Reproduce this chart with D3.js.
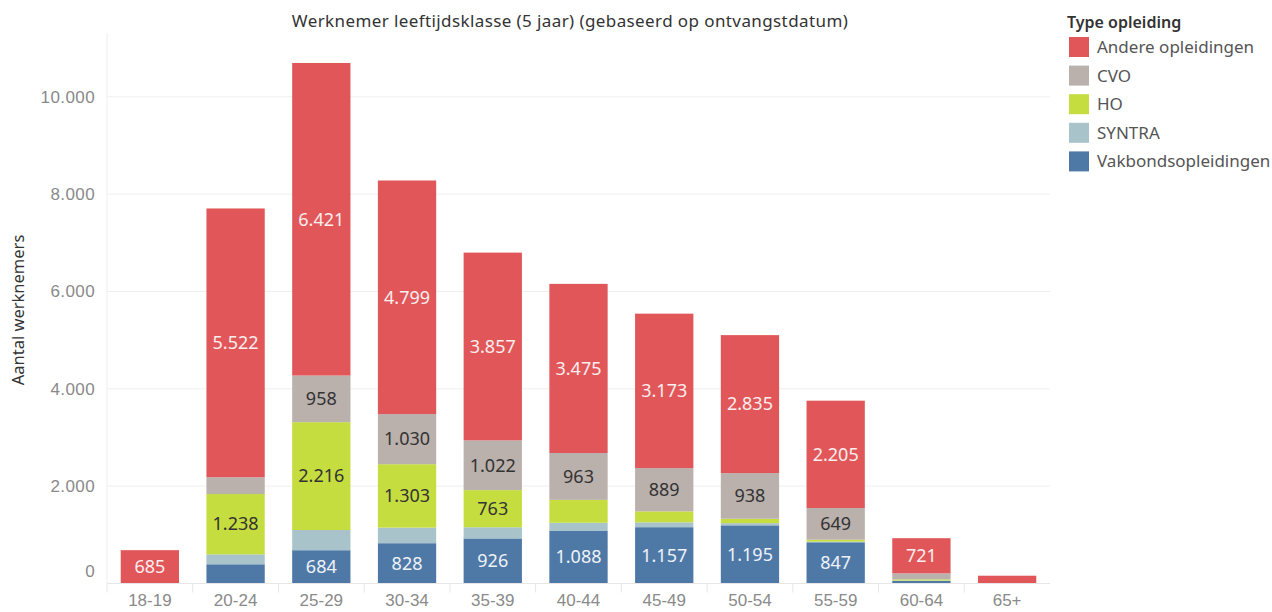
<!DOCTYPE html>
<html>
<head>
<meta charset="utf-8">
<script src="https://cdn.jsdelivr.net/npm/d3@7"></script>
<style>
  body { margin: 0; background: #fff; }
  svg { font-family: "Noto Sans", sans-serif; display: block; }
</style>
</head>
<body>
<svg id="chart"></svg>
<script>
// age classes on the x axis
var categories = ["18-19", "20-24", "25-29", "30-34", "35-39", "40-44", "45-49", "50-54", "55-59", "60-64", "65+"];

// series, stacked bottom to top
var vakbond = [0, 395, 684, 828, 926, 1088, 1157, 1195, 847, 55, 0];
var syntra  = [0, 205, 415, 320, 230, 160, 100, 45, 15, 5, 0];
var ho      = [0, 1238, 2216, 1303, 763, 470, 225, 90, 40, 25, 0];
var cvo     = [0, 345, 958, 1030, 1022, 963, 889, 938, 649, 125, 0];
var andere  = [685, 5522, 6421, 4799, 3857, 3475, 3173, 2835, 2205, 721, 160];

var yTicks = [0, 2000, 4000, 6000, 8000, 10000];

var seriesNames = ["Vakbondsopleidingen", "SYNTRA", "HO", "CVO", "Andere opleidingen"];
var legendOrder = ["Andere opleidingen", "CVO", "HO", "SYNTRA", "Vakbondsopleidingen"];
var colors = {
    "Andere opleidingen": "#e15759",
    "CVO": "#bab0ac",
    "HO": "#c6dd3f",
    "SYNTRA": "#a9c3ca",
    "Vakbondsopleidingen": "#4e79a7"
};
var labelColors = {
    "Andere opleidingen": "#fbeeee",
    "CVO": "#333",
    "HO": "#333",
    "SYNTRA": "#333",
    "Vakbondsopleidingen": "#eef2f7"
};

var dimensions = {
    width: 1272,
    height: 612,
    margin: { top: 33, bottom: 28.5, right: 222, left: 107 }
};

var svg = d3.select("#chart")
    .attr("width", dimensions.width)
    .attr("height", dimensions.height);

// build rows for d3.stack
var table = categories.map(function(c, i) {
    return {
        cat: c,
        "Vakbondsopleidingen": vakbond[i],
        "SYNTRA": syntra[i],
        "HO": ho[i],
        "CVO": cvo[i],
        "Andere opleidingen": andere[i]
    };
});
var stacked = d3.stack().keys(seriesNames)(table);

var nl = d3.formatLocale({ decimal: ",", thousands: ".", grouping: [3], currency: ["€", ""] });
var fmt = nl.format(",d");

var xScale = d3.scaleBand()
    .domain(categories)
    .range([dimensions.margin.left, dimensions.width - dimensions.margin.right])
    .paddingInner(0.32)
    .paddingOuter(0.16);

var yScale = d3.scaleLinear()
    .domain([0, 11310])
    .range([dimensions.height - dimensions.margin.bottom, dimensions.margin.top]);

var x0 = dimensions.margin.left;
var x1 = dimensions.width - dimensions.margin.right;
var yBase = yScale(0);

// gridlines
svg.append("g")
    .selectAll("line")
    .data(yTicks.slice(1))
    .enter()
    .append("line")
    .attr("x1", x0)
    .attr("x2", x1)
    .attr("y1", d => yScale(d))
    .attr("y2", d => yScale(d))
    .attr("stroke", "#efefef")
    .attr("stroke-width", 1);

// left axis line
svg.append("line")
    .attr("x1", x0).attr("x2", x0)
    .attr("y1", dimensions.margin.top).attr("y2", yBase)
    .attr("stroke", "#eeeeee");

// y axis
var yAxis = d3.axisLeft(yScale)
    .tickValues(yTicks)
    .tickFormat(fmt)
    .tickSize(0)
    .tickPadding(12);
var gy = svg.append("g")
    .attr("transform", `translate(${x0}, 0)`)
    .call(yAxis);
gy.select(".domain").remove();
gy.selectAll("text")
    .attr("fill", "#8a8a8a")
    .style("font-size", "17px")
    .style("letter-spacing", "0.4px")
    .attr("dy", d => d === 0 ? "-0.42em" : "0.32em");

svg.append("text")
    .attr("transform", "rotate(-90)")
    .attr("x", -310)
    .attr("y", 24)
    .attr("text-anchor", "middle")
    .attr("fill", "#333")
    .style("font-size", "16.5px")
    .text("Aantal werknemers");

// bars
var layers = svg.selectAll(".layer")
    .data(stacked)
    .enter()
    .append("g")
    .attr("class", "layer")
    .attr("fill", d => colors[d.key]);

layers.selectAll("rect")
    .data(d => d.map(function(p) { p.key = d.key; return p; }))
    .enter()
    .append("rect")
    .attr("x", d => xScale(d.data.cat))
    .attr("y", d => yScale(d[1]))
    .attr("width", xScale.bandwidth())
    .attr("height", d => yScale(d[0]) - yScale(d[1]));

// labels on big enough segments
layers.selectAll("text")
    .data(d => d.filter(p => p[1] - p[0] >= 600))
    .enter()
    .append("text")
    .attr("x", d => xScale(d.data.cat) + xScale.bandwidth() / 2)
    .attr("y", d => (yScale(d[0]) + yScale(d[1])) / 2)
    .attr("dy", "0.35em")
    .attr("text-anchor", "middle")
    .attr("fill", d => labelColors[d.key])
    .style("font-size", "18px")
    .text(d => fmt(d[1] - d[0]));

// x axis
var xAxis = d3.axisBottom(xScale).tickSize(0).tickPadding(10);
var gx = svg.append("g")
    .attr("transform", `translate(0, ${yBase})`)
    .call(xAxis);
gx.select(".domain").attr("stroke", "#e6e6e6").attr("d", `M${x0},0H${x1}`);
gx.selectAll("text")
    .attr("fill", "#8a8a8a")
    .style("font-size", "17px");

// separators between categories
var step = xScale.step();
svg.append("g")
    .selectAll("line")
    .data(d3.range(categories.length))
    .enter()
    .append("line")
    .attr("x1", i => x0 + i * step)
    .attr("x2", i => x0 + i * step)
    .attr("y1", yBase)
    .attr("y2", yBase + 9)
    .attr("stroke", "#e6e6e6");

// title
svg.append("text")
    .attr("x", 570)
    .attr("y", 27)
    .attr("text-anchor", "middle")
    .attr("fill", "#333")
    .style("font-size", "17px")
    .style("letter-spacing", "0.4px")
    .text("Werknemer leeftijdsklasse (5 jaar) (gebaseerd op ontvangstdatum)");

// legend
var legend = svg.append("g").attr("transform", "translate(1067, 0)");
legend.append("text")
    .attr("x", 0)
    .attr("y", 28)
    .attr("fill", "#333")
    .style("font-size", "16px")
    .style("font-weight", "600")
    .text("Type opleiding");

var items = legend.selectAll(".item")
    .data(legendOrder)
    .enter()
    .append("g")
    .attr("class", "item")
    .attr("transform", (d, i) => `translate(0, ${37 + i * 28.6})`);
items.append("rect")
    .attr("x", 2)
    .attr("width", 20)
    .attr("height", 20)
    .attr("fill", d => colors[d]);
items.append("text")
    .attr("x", 30)
    .attr("y", 10)
    .attr("dy", "0.35em")
    .attr("fill", "#555")
    .style("font-size", "17px")
    .text(d => d);
</script>
</body>
</html>
